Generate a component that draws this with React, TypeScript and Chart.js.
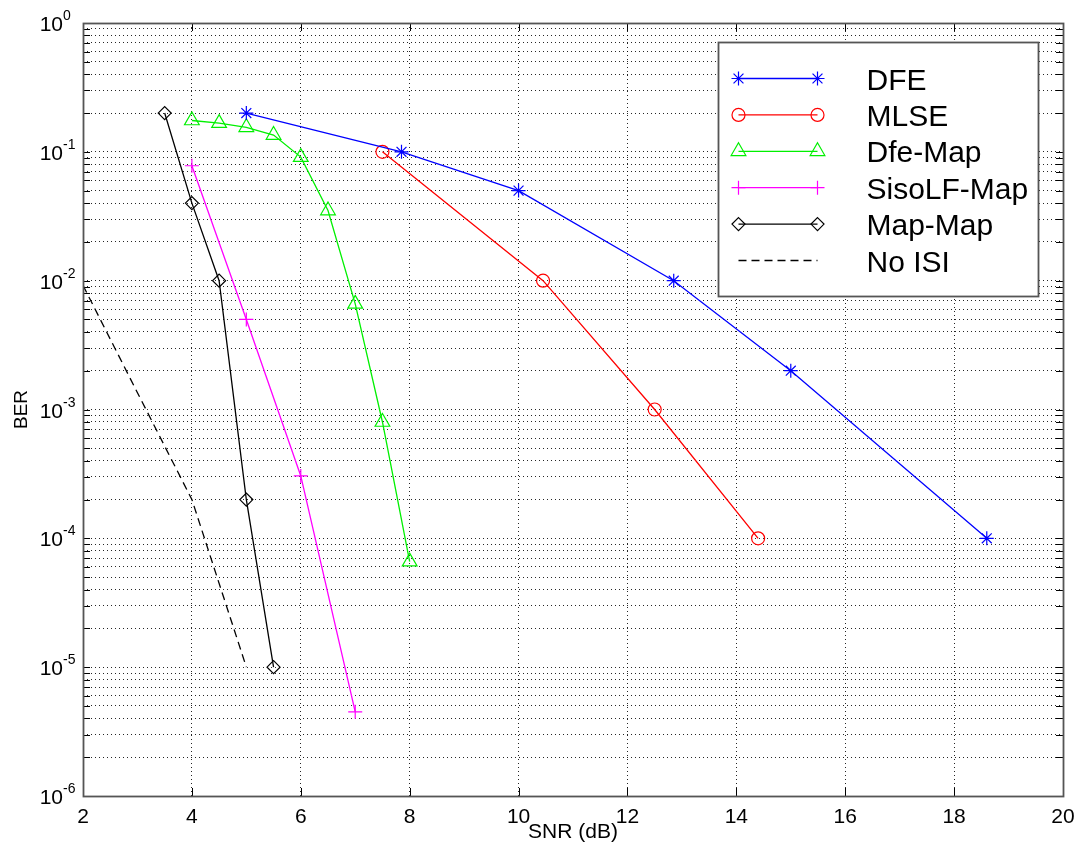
import React, { useEffect, useRef } from 'react';
import { Chart, registerables } from 'chart.js';

Chart.register(...registerables);

// ---- data ----
const xTickValues = [2, 4, 6, 8, 10, 12, 14, 16, 18, 20];
const yDecadeExponents = [-6, -5, -4, -3, -2, -1, 0];

const snrDFE = [5, 7.85, 10, 12.85, 15, 18.6];
const berDFE = [0.2, 0.1, 0.05, 0.01, 0.002, 1e-4];

const snrMLSE = [7.5, 10.45, 12.5, 14.4];
const berMLSE = [0.1, 0.01, 1e-3, 1e-4];

const snrDfeMap = [4, 4.5, 5, 5.5, 6, 6.5, 7, 7.5, 8];
const berDfeMap = [0.175, 0.167, 0.155, 0.135, 0.091, 0.035, 0.0066, 0.0008, 6.6e-5];

const snrSisoLF = [4, 5, 6, 7];
const berSisoLF = [0.078, 0.005, 3.05e-4, 4.5e-6];

const snrMapMap = [3.5, 4, 4.5, 5, 5.5];
const berMapMap = [0.2, 0.04, 0.01, 2e-4, 1e-5];

const snrNoISI = [2, 3, 4, 5];
const berNoISI = [0.0092, 0.00135, 2e-4, 1e-5];

const seriesNames = ['DFE', 'MLSE', 'Dfe-Map', 'SisoLF-Map', 'Map-Map', 'No ISI'];

const xTitle = 'SNR (dB)';
const yTitle = 'BER';

// y tick values: 1..9 x 10^k
const yTickValues: number[] = [];
for (let k = -6; k < 0; k++) {
  for (let m = 1; m <= 9; m++) yTickValues.push(Number((m * Math.pow(10, k)).toPrecision(3)));
}
yTickValues.push(1);

const FONT = '"Liberation Sans", Arial, sans-serif';

function toXY(xs: number[], ys: number[]) {
  return xs.map((x, i) => ({ x, y: ys[i] }));
}

function drawMarker(ctx: CanvasRenderingContext2D, style: string, x: number, y: number, r: number, color: string) {
  ctx.save();
  ctx.strokeStyle = color;
  ctx.lineWidth = 1.2;
  ctx.beginPath();
  if (style === 'star') {
    ctx.moveTo(x - r, y); ctx.lineTo(x + r, y);
    ctx.moveTo(x, y - r); ctx.lineTo(x, y + r);
    const d = r * Math.SQRT1_2;
    ctx.moveTo(x - d, y - d); ctx.lineTo(x + d, y + d);
    ctx.moveTo(x - d, y + d); ctx.lineTo(x + d, y - d);
  } else if (style === 'circle') {
    ctx.arc(x, y, r, 0, Math.PI * 2);
  } else if (style === 'triangle') {
    ctx.moveTo(x, y - r);
    ctx.lineTo(x + r * Math.sin(2 * Math.PI / 3), y - r * Math.cos(2 * Math.PI / 3));
    ctx.lineTo(x + r * Math.sin(4 * Math.PI / 3), y - r * Math.cos(4 * Math.PI / 3));
    ctx.closePath();
  } else if (style === 'cross') {
    ctx.moveTo(x - r, y); ctx.lineTo(x + r, y);
    ctx.moveTo(x, y - r); ctx.lineTo(x, y + r);
  } else if (style === 'rectRot') {
    ctx.moveTo(x, y - r); ctx.lineTo(x + r, y); ctx.lineTo(x, y + r); ctx.lineTo(x - r, y);
    ctx.closePath();
  }
  ctx.stroke();
  ctx.restore();
}

const matlabPlugin = {
  id: 'matlabAxes',
  afterDatasetsDraw(chart: any) {
    const ctx: CanvasRenderingContext2D = chart.ctx;
    const { left, right, top, bottom } = chart.chartArea;
    const xs = chart.scales.x;
    const ys = chart.scales.y;
    ctx.save();
    // inward ticks
    ctx.strokeStyle = '#000';
    ctx.lineWidth = 1;
    ctx.beginPath();
    yTickValues.forEach((v) => {
      const py = Math.round(ys.getPixelForValue(v)) + 0.5;
      ctx.moveTo(left, py); ctx.lineTo(left + 7, py);
      ctx.moveTo(right, py); ctx.lineTo(right - 7, py);
    });
    xTickValues.forEach((v) => {
      const px = Math.round(xs.getPixelForValue(v)) + 0.5;
      ctx.moveTo(px, bottom); ctx.lineTo(px, bottom - 8);
      ctx.moveTo(px, top); ctx.lineTo(px, top + 8);
    });
    ctx.stroke();
    // frame
    ctx.strokeStyle = '#555';
    ctx.lineWidth = 1.8;
    ctx.strokeRect(Math.round(left) + 0.5, Math.round(top) + 0.5, Math.round(right - left), Math.round(bottom - top));

    // tick labels
    ctx.fillStyle = '#000';
    ctx.font = `21px ${FONT}`;
    ctx.textAlign = 'center';
    ctx.textBaseline = 'alphabetic';
    xTickValues.forEach((v) => {
      ctx.fillText(String(v), xs.getPixelForValue(v), bottom + 27);
    });
    yDecadeExponents.forEach((e) => {
      const py = ys.getPixelForValue(Math.pow(10, e));
      ctx.font = `21px ${FONT}`;
      ctx.textAlign = 'right';
      ctx.fillText('10', left - 20, py + 8);
      ctx.font = `14px ${FONT}`;
      ctx.textAlign = 'left';
      ctx.fillText(String(e), left - 20, py - 3);
    });

    // axis titles
    ctx.font = `21px ${FONT}`;
    ctx.textAlign = 'center';
    ctx.fillText(xTitle, (left + right) / 2, bottom + 42);
    ctx.save();
    ctx.font = `19px ${FONT}`;
    ctx.translate(left - 56, (top + bottom) / 2);
    ctx.rotate(-Math.PI / 2);
    ctx.fillText(yTitle, 0, 0);
    ctx.restore();

    // legend
    const lw = 320, lh = 254;
    const lx = Math.round(right - 25 - lw) + 0.5;
    const ly = Math.round(top + 19) + 0.5;
    ctx.fillStyle = '#fff';
    ctx.fillRect(lx, ly, lw, lh);
    ctx.strokeStyle = '#555';
    ctx.lineWidth = 1.8;
    ctx.strokeRect(lx, ly, lw, lh);
    chart.data.datasets.forEach((ds: any, i: number) => {
      const ry = ly + 36 + i * 36.4;
      const x1 = lx + 20, x2 = lx + 99;
      ctx.save();
      ctx.strokeStyle = ds.borderColor;
      ctx.lineWidth = ds.borderWidth;
      ctx.setLineDash(ds.borderDash || []);
      ctx.beginPath();
      ctx.moveTo(x1, ry); ctx.lineTo(x2, ry);
      ctx.stroke();
      ctx.restore();
      if (ds.pointStyle && ds.pointRadius > 0) {
        drawMarker(ctx, ds.pointStyle, x1, ry, ds.pointRadius, ds.borderColor);
        drawMarker(ctx, ds.pointStyle, x2, ry, ds.pointRadius, ds.borderColor);
      }
      ctx.fillStyle = '#000';
      ctx.font = `30px ${FONT}`;
      ctx.textAlign = 'left';
      ctx.textBaseline = 'alphabetic';
      ctx.fillText(ds.label, lx + 148, ry + 11);
    });
    ctx.restore();
  },
};

export default function App() {
  const canvasRef = useRef<HTMLCanvasElement | null>(null);

  useEffect(() => {
    const canvas = canvasRef.current;
    if (!canvas) return;
    const mk = (label: string, xs: number[], ys: number[], color: string, pointStyle: any, r: number, dash?: number[]) => ({
      label,
      data: toXY(xs, ys),
      borderColor: color,
      backgroundColor: 'rgba(0,0,0,0)',
      borderWidth: 1.3,
      borderDash: dash || [],
      pointStyle,
      pointRadius: r,
      pointHoverRadius: r,
      pointBorderWidth: 1.2,
      pointBorderColor: color,
      pointBackgroundColor: 'rgba(0,0,0,0)',
      tension: 0,
      fill: false,
    });
    const chart = new Chart(canvas, {
      type: 'line',
      data: {
        datasets: [
          mk(seriesNames[0], snrDFE, berDFE, '#0000ff', 'star', 7),
          mk(seriesNames[1], snrMLSE, berMLSE, '#ff0000', 'circle', 6.5),
          mk(seriesNames[2], snrDfeMap, berDfeMap, '#00f000', 'triangle', 8.5),
          mk(seriesNames[3], snrSisoLF, berSisoLF, '#ff00ff', 'cross', 7),
          mk(seriesNames[4], snrMapMap, berMapMap, '#000000', 'rectRot', 6.5),
          mk(seriesNames[5], snrNoISI, berNoISI, '#000000', false, 0, [8, 5]),
        ] as any,
      },
      options: {
        animation: false,
        responsive: false,
        maintainAspectRatio: false,
        layout: { padding: { left: 83, right: 15, top: 23, bottom: 60 } },
        plugins: { legend: { display: false }, tooltip: { enabled: false } },
        scales: {
          x: {
            type: 'linear',
            min: 2,
            max: 20,
            ticks: { display: false, stepSize: 2 },
            grid: { display: true, drawTicks: false, color: 'rgba(0,0,0,0.85)', lineWidth: 1 },
            border: { display: false, dash: [1, 3] },
            title: { display: false },
          },
          y: {
            type: 'logarithmic',
            min: 1e-6,
            max: 1,
            afterBuildTicks: (scale: any) => {
              scale.ticks = yTickValues.map((v) => ({ value: v }));
            },
            ticks: { display: false },
            grid: { display: true, drawTicks: false, color: 'rgba(0,0,0,0.85)', lineWidth: 1 },
            border: { display: false, dash: [1, 3] },
            title: { display: false },
          },
        },
      } as any,
      plugins: [matlabPlugin],
    });
    return () => chart.destroy();
  }, []);

  return (
    <div style={{ position: 'fixed', left: 0, top: 0, width: 1078, height: 856, background: '#fff' }}>
      <canvas ref={canvasRef} width={1078} height={856} style={{ width: 1078, height: 856, display: 'block' }} />
    </div>
  );
}
